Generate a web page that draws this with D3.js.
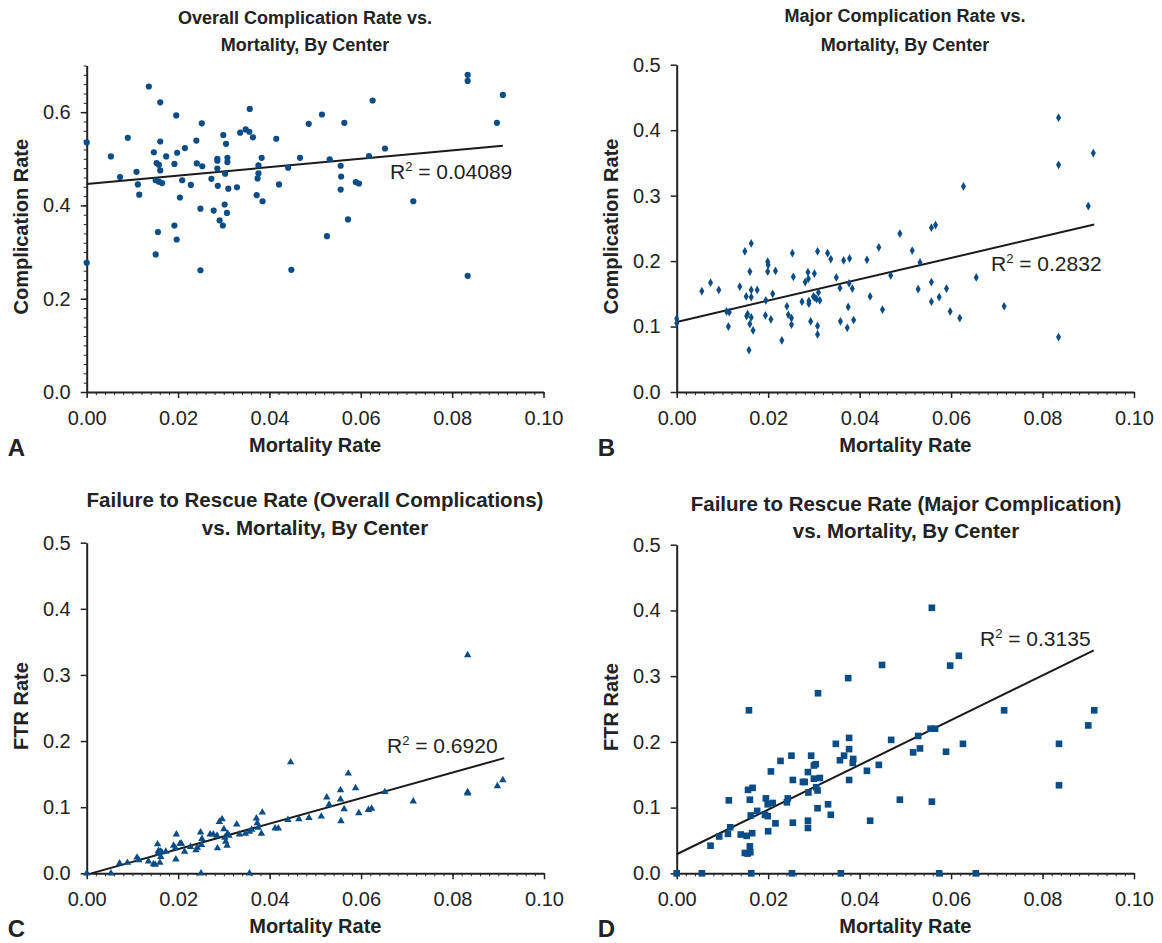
<!DOCTYPE html>
<html>
<head>
<meta charset="utf-8">
<title>Complication, FTR and Mortality by Center</title>
<script src="https://d3js.org/d3.v7.min.js"></script>
<style>
  body { margin: 0; background: #fff; }
  svg text { font-family: "Liberation Sans", Arial, Helvetica, sans-serif; fill: #222; }
</style>
</head>
<body>
<div id="chart"></div>
<script>
// values, [mortality rate, y value]
const overallComp = [
  [0,0.535],[0,0.277],[0.0053,0.505],[0.0073,0.461],[0.009,0.545],[0.0109,0.472],[0.0112,0.445],[0.0115,0.423],
  [0.0136,0.655],[0.0147,0.514],[0.0153,0.491],[0.0158,0.487],[0.0161,0.621],[0.0161,0.537],[0.0161,0.475],
  [0.0151,0.454],[0.0158,0.451],[0.0165,0.448],[0.0156,0.343],[0.0151,0.295],[0.0174,0.505],[0.0192,0.489],
  [0.0196,0.593],[0.0198,0.513],[0.0192,0.357],[0.0197,0.327],[0.0204,0.417],[0.0209,0.454],[0.0215,0.523],
  [0.0228,0.444],[0.0240,0.539],[0.0241,0.490],[0.0253,0.484],[0.0252,0.576],[0.0249,0.393],[0.0249,0.261],
  [0.0273,0.457],[0.0278,0.389],[0.0286,0.500],[0.0286,0.496],[0.0286,0.479],[0.0287,0.442],[0.0291,0.368],
  [0.0298,0.357],[0.0299,0.551],[0.0305,0.532],[0.0303,0.468],[0.0302,0.402],[0.0307,0.384],[0.0308,0.502],
  [0.0308,0.493],[0.0310,0.436],[0.0329,0.439],[0.0336,0.556],[0.0348,0.563],[0.0356,0.558],[0.0357,0.607],
  [0.0364,0.546],[0.0376,0.486],[0.0376,0.469],[0.0374,0.458],[0.0383,0.502],[0.0372,0.422],[0.0385,0.409],
  [0.0415,0.543],[0.0421,0.445],[0.0441,0.481],[0.0448,0.262],[0.0467,0.502],[0.0486,0.575],[0.0515,0.595],
  [0.0564,0.577],[0.0626,0.625],[0.0834,0.680],[0.0834,0.667],[0.0911,0.637],[0.0898,0.577],[0.0532,0.499],
  [0.0556,0.485],[0.0557,0.462],[0.0556,0.434],[0.0589,0.450],[0.0596,0.447],[0.0618,0.506],[0.0653,0.522],
  [0.0572,0.370],[0.0526,0.334],[0.0715,0.409],[0.0834,0.249]
];

const majorComp = [
  [0,0.112],[0,0.105],[0.0055,0.154],[0.0074,0.167],[0.0092,0.156],[0.0109,0.123],[0.0115,0.122],[0.0113,0.100],
  [0.0138,0.161],[0.0149,0.215],[0.0152,0.146],[0.0155,0.119],[0.0153,0.116],[0.0158,0.064],[0.0160,0.184],
  [0.0163,0.227],[0.0163,0.156],[0.0163,0.145],[0.0163,0.114],[0.0160,0.104],[0.0167,0.094],[0.0176,0.156],
  [0.0195,0.140],[0.0194,0.117],[0.0199,0.199],[0.0200,0.194],[0.0199,0.184],[0.0206,0.111],[0.0210,0.150],
  [0.0216,0.185],[0.0230,0.079],[0.0241,0.131],[0.0244,0.118],[0.0251,0.113],[0.0251,0.103],[0.0253,0.212],
  [0.0255,0.176],[0.0274,0.138],[0.0281,0.168],[0.0287,0.183],[0.0288,0.173],[0.0289,0.139],[0.0289,0.135],
  [0.0293,0.108],[0.0301,0.181],[0.0299,0.146],[0.0302,0.144],[0.0306,0.142],[0.0310,0.152],[0.0313,0.140],
  [0.0308,0.215],[0.0308,0.101],[0.0308,0.088],[0.0330,0.212],[0.0337,0.203],[0.0349,0.175],[0.0357,0.159],
  [0.0358,0.108],[0.0365,0.201],[0.0378,0.204],[0.0377,0.166],[0.0375,0.130],[0.0373,0.098],[0.0384,0.158],
  [0.0387,0.110],[0.0416,0.202],[0.0423,0.146],[0.0442,0.221],[0.0450,0.126],[0.0468,0.178],[0.0488,0.242],
  [0.0515,0.216],[0.0532,0.198],[0.0557,0.251],[0.0566,0.255],[0.0627,0.314],[0.0528,0.157],[0.0557,0.168],
  [0.0590,0.158],[0.0574,0.145],[0.0557,0.138],[0.0598,0.123],[0.0619,0.113],[0.0655,0.175],[0.0716,0.131],
  [0.0835,0.419],[0.0835,0.347],[0.0835,0.084],[0.0911,0.365],[0.0900,0.284]
];

const ftrOverall = [
  [0,0],[0.0053,0],[0.0072,0.015],[0.0089,0.016],[0.0110,0.024],[0.0114,0.020],[0.0135,0.018],[0.0146,0.014],
  [0.0150,0.013],[0.0155,0.044],[0.0157,0.034],[0.0156,0.030],[0.0161,0.033],[0.0162,0.025],[0.0160,0.016],
  [0.0164,0.032],[0.0173,0.033],[0.0190,0.042],[0.0196,0.059],[0.0194,0.038],[0.0195,0.021],[0.0204,0.045],
  [0.0207,0.045],[0.0214,0.033],[0.0227,0.040],[0.0239,0.035],[0.0242,0.039],[0.0249,0.062],[0.0252,0.052],
  [0.0251,0.043],[0.0250,0],[0.0270,0.059],[0.0277,0.059],[0.0285,0.057],[0.0286,0.038],[0.0290,0.078],
  [0.0296,0.082],[0.0300,0.067],[0.0302,0.054],[0.0304,0.048],[0.0307,0.042],[0.0308,0.060],[0.0311,0.057],
  [0.0328,0.074],[0.0334,0.059],[0.0347,0.060],[0.0356,0],[0.0356,0.063],[0.0361,0.066],[0.0371,0.083],
  [0.0373,0.076],[0.0375,0.069],[0.0382,0.060],[0.0384,0.092],[0.0412,0.068],[0.0419,0.068],[0.0440,0.081],
  [0.0446,0.168],[0.0464,0.082],[0.0486,0.084],[0.0513,0.086],[0.0525,0.115],[0.0530,0.104],[0.0555,0.126],
  [0.0555,0.112],[0.0563,0.097],[0.0556,0.079],[0.0572,0.151],[0.0588,0.129],[0.0595,0.091],[0.0616,0.096],
  [0.0623,0.098],[0.0652,0.123],[0.0714,0.109],[0.0833,0.330],[0.0833,0.121],[0.0833,0.123],[0.0898,0.132],
  [0.0910,0.141]
];

const ftrMajor = [
  [0,0],[0.0055,0],[0.0074,0.042],[0.0093,0.056],[0.0114,0.111],[0.0112,0.060],[0.0117,0.070],[0.0140,0.059],
  [0.0153,0.057],[0.0156,0.127],[0.0158,0.248],[0.0160,0.112],[0.0162,0.088],[0.0165,0.061],[0.0166,0.130],
  [0.0160,0.041],[0.0149,0.031],[0.0155,0.030],[0.0161,0.032],[0.0163,0],[0.0176,0.095],[0.0195,0.114],
  [0.0193,0.089],[0.0199,0.105],[0.0199,0.087],[0.0200,0.064],[0.0206,0.155],[0.0210,0.107],[0.0216,0.076],
  [0.0227,0.171],[0.0241,0.108],[0.0243,0.114],[0.0251,0.179],[0.0254,0.142],[0.0254,0.077],[0.0252,0],
  [0.0276,0.139],[0.0280,0.139],[0.0287,0.154],[0.0288,0.123],[0.0287,0.080],[0.0287,0.069],[0.0294,0.179],
  [0.0300,0.164],[0.0304,0.166],[0.0300,0.144],[0.0305,0.131],[0.0308,0.126],[0.0313,0.145],[0.0309,0.274],
  [0.0308,0.099],[0.0331,0.105],[0.0337,0.089],[0.0348,0.197],[0.0357,0.172],[0.0366,0.179],[0.0375,0.297],
  [0.0377,0.206],[0.0377,0.189],[0.0377,0.142],[0.0359,0],[0.0386,0.174],[0.0385,0.168],[0.0416,0.156],
  [0.0423,0.080],[0.0442,0.165],[0.0449,0.317],[0.0469,0.203],[0.0488,0.112],[0.0517,0.184],[0.0528,0.209],
  [0.0532,0.190],[0.0555,0.220],[0.0565,0.220],[0.0558,0.404],[0.0558,0.109],[0.0574,0],[0.0589,0.185],
  [0.0598,0.316],[0.0617,0.331],[0.0626,0.197],[0.0654,0],[0.0716,0.248],[0.0836,0.197],[0.0836,0.134],
  [0.0900,0.225],[0.0913,0.248]
];

// fitted trend lines: [x start, x end], intercept, slope
const trendA = { x: [0, 0.0911], b: 0.446, m: 0.90 };
const trendB = { x: [0, 0.0913], b: 0.107, m: 1.63 };
const trendC = { x: [0.001, 0.0913], b: -0.002, m: 1.93 };
const trendD = { x: [0, 0.0912], b: 0.029, m: 3.40 };

const r2Labels = ["0.04089", "0.2832", "0.6920", "0.3135"];
const xTicks = [0, 0.02, 0.04, 0.06, 0.08, 0.10];
const yTicksA = [0, 0.2, 0.4, 0.6];
const yTicks = [0, 0.1, 0.2, 0.3, 0.4, 0.5];

const W = 1162, H = 943;
const blue = "#0a4c85";

const svg = d3.select("#chart").append("svg")
  .attr("width", W).attr("height", H);

const panels = [
  { letter: "A", data: overallComp, trend: trendA, r2: r2Labels[0],
    title: ["Overall Complication Rate vs.", "Mortality, By Center"], titleX: 305, titleY: [24, 51], titleSize: 18,
    yLabel: "Complication Rate", yMax: 0.7, yTicks: yTicksA, yMinor: 0.02,
    box: { left: 86.7, right: 543.5, top: 65.5, bottom: 392 }, shape: d3.symbolCircle, size: 30,
    r2Pos: [390, 179] },
  { letter: "B", data: majorComp, trend: trendB, r2: r2Labels[1],
    title: ["Major Complication Rate vs.", "Mortality, By Center"], titleX: 905, titleY: [22, 51], titleSize: 18,
    yLabel: "Complication Rate", yMax: 0.5, yTicks: yTicks, yMinor: null,
    box: { left: 676.7, right: 1134, top: 64.7, bottom: 392 }, shape: d3.symbolDiamond, size: 22,
    r2Pos: [991, 271] },
  { letter: "C", data: ftrOverall, trend: trendC, r2: r2Labels[2],
    title: ["Failure to Rescue Rate (Overall Complications)", "vs. Mortality, By Center"], titleX: 315, titleY: [507, 535], titleSize: 20.5,
    yLabel: "FTR Rate", yMax: 0.5, yTicks: yTicks, yMinor: null,
    box: { left: 86.7, right: 544, top: 542.7, bottom: 873.3 }, shape: d3.symbolTriangle, size: 24,
    r2Pos: [387, 753] },
  { letter: "D", data: ftrMajor, trend: trendD, r2: r2Labels[3],
    title: ["Failure to Rescue Rate (Major Complication)", "vs. Mortality, By Center"], titleX: 906, titleY: [511, 538], titleSize: 20.5,
    yLabel: "FTR Rate", yMax: 0.5, yTicks: yTicks, yMinor: null,
    box: { left: 676.7, right: 1134, top: 544.7, bottom: 873.3 }, shape: d3.symbolSquare, size: 44,
    r2Pos: [980, 646] }
];

panels.forEach(p => {
  const bx = p.box;
  const x = d3.scaleLinear().domain([0, 0.1]).range([bx.left, bx.right]);
  const y = d3.scaleLinear().domain([0, p.yMax]).range([bx.bottom, bx.top]);
  const g = svg.append("g");

  // minor ticks first so major ones sit on top
  const xMinor = d3.range(0, 0.1001, 0.002);
  g.append("g").attr("transform", `translate(0,${bx.bottom})`)
    .call(d3.axisBottom(x).tickValues(xMinor).tickSize(3).tickFormat(""))
    .call(a => a.select(".domain").remove())
    .call(a => a.selectAll("line").attr("stroke", "#222").attr("stroke-width", 1));

  if (p.yMinor) {
    g.append("g").attr("transform", `translate(${bx.left},0)`)
      .call(d3.axisLeft(y).tickValues(d3.range(0, p.yMax + 0.001, p.yMinor)).tickSize(3).tickFormat(""))
      .call(a => a.select(".domain").remove())
      .call(a => a.selectAll("line").attr("stroke", "#222").attr("stroke-width", 1));
  }

  const xa = g.append("g").attr("transform", `translate(0,${bx.bottom})`)
    .call(d3.axisBottom(x).tickValues(xTicks).tickSize(6).tickSizeOuter(0).tickPadding(13).tickFormat(d3.format(".2f")));
  const ya = g.append("g").attr("transform", `translate(${bx.left},0)`)
    .call(d3.axisLeft(y).tickValues(p.yTicks).tickSize(6).tickSizeOuter(0).tickPadding(10).tickFormat(d3.format(".1f")));
  [xa, ya].forEach(a => {
    a.select(".domain").attr("stroke", "#222").attr("stroke-width", 2);
    a.selectAll(".tick line").attr("stroke", "#222").attr("stroke-width", 1.5);
    a.selectAll("text").style("font-size", "20px").attr("fill", "#222");
  });

  // trend line
  const t = p.trend;
  g.append("line")
    .attr("x1", x(t.x[0])).attr("y1", y(t.b + t.m * t.x[0]))
    .attr("x2", x(t.x[1])).attr("y2", y(t.b + t.m * t.x[1]))
    .attr("stroke", "#1a1a1a").attr("stroke-width", 2);

  // markers
  const sym = d3.symbol().type(p.shape).size(p.size);
  g.append("g").selectAll("path")
    .data(p.data)
    .join("path")
    .attr("d", sym)
    .attr("transform", d => `translate(${x(d[0])},${y(d[1])})`)
    .attr("fill", blue);

  // R squared
  const r2 = g.append("text")
    .attr("x", p.r2Pos[0]).attr("y", p.r2Pos[1])
    .style("font-size", "21px");
  r2.append("tspan").text("R");
  r2.append("tspan").attr("dy", -8).style("font-size", "13px").text("2");
  r2.append("tspan").attr("dy", 8).text(" = " + p.r2);

  // titles
  p.title.forEach((line, i) => {
    g.append("text")
      .attr("x", p.titleX).attr("y", p.titleY[i])
      .attr("text-anchor", "middle")
      .style("font-size", p.titleSize + "px").style("font-weight", "bold")
      .text(line);
  });

  g.append("text")
    .attr("x", (bx.left + bx.right) / 2).attr("y", bx.bottom + 60)
    .attr("text-anchor", "middle")
    .style("font-size", "20px").style("font-weight", "bold")
    .text("Mortality Rate");

  g.append("text")
    .attr("transform", `translate(${bx.left - 59},${(bx.top + bx.bottom) / 2 - 2}) rotate(-90)`)
    .attr("text-anchor", "middle")
    .style("font-size", "20px").style("font-weight", "bold")
    .text(p.yLabel);

  g.append("text")
    .attr("x", bx.left - 79).attr("y", bx.bottom + 64)
    .style("font-size", "24px").style("font-weight", "bold")
    .text(p.letter);
});
</script>
</body>
</html>
